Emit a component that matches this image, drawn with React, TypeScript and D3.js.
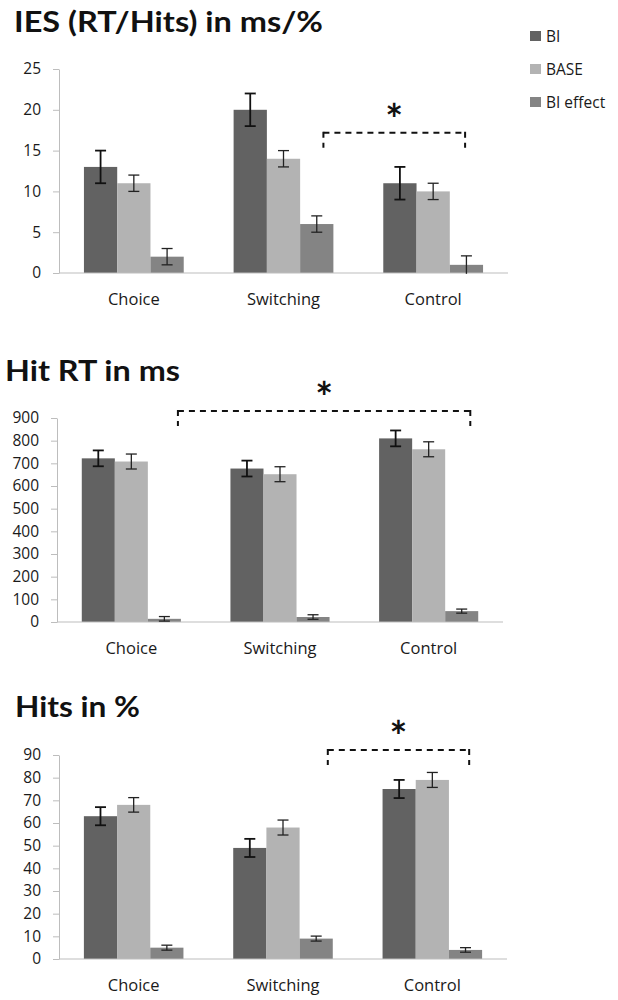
import { useEffect, useRef } from "react"
import * as d3 from "d3"

const categories = ["Choice", "Switching", "Control"]
const seriesNames = ["BI", "BASE", "BI effect"]
const seriesColors = ["#626262", "#b3b3b3", "#848484"]

// IES (RT/Hits) in ms/%
const iesBI = [13, 20, 11]
const iesBIErr = [2, 2, 2]
const iesBase = [11, 14, 10]
const iesBaseErr = [1, 1, 1]
const iesEffect = [2, 6, 1]
const iesEffectErr = [1, 1, 1.1]
const iesTicks = [0, 5, 10, 15, 20, 25]

// Hit RT in ms
const rtBI = [722, 677, 810]
const rtBIErr = [35, 35, 35]
const rtBase = [708, 652, 762]
const rtBaseErr = [33, 33, 33]
const rtEffect = [14, 22, 48]
const rtEffectErr = [10, 10, 9]
const rtTicks = [0, 100, 200, 300, 400, 500, 600, 700, 800, 900]

// Hits in %
const hitsBI = [63, 49, 75]
const hitsBIErr = [4, 4, 4]
const hitsBase = [68, 58, 79]
const hitsBaseErr = [3.2, 3.3, 3.3]
const hitsEffect = [5, 9, 4]
const hitsEffectErr = [1.1, 1.1, 1]
const hitsTicks = [0, 10, 20, 30, 40, 50, 60, 70, 80, 90]

const titles = ["IES (RT/Hits) in ms/%", "Hit RT in ms", "Hits in %"]

// significance brackets (one per panel)
const bracketFrom = ["Switching", "Choice", "Switching"]
const bracketTo = ["Control", "Control", "Control"]
const bracketLevel = [17.2, 931, 92.2]

const TITLE_FONT = "Lato, 'Open Sans', sans-serif"
const FONT = "'Open Sans', 'Noto Sans', sans-serif"

export default function App() {
  const ref = useRef<SVGSVGElement>(null)

  useEffect(() => {
    const svg = d3.select(ref.current)
    svg.selectAll("*").remove()

    const panels = [
      {
        title: titles[0], titleX: 14, titleY: 32, titleW: 309,
        values: [iesBI, iesBase, iesEffect], errs: [iesBIErr, iesBaseErr, iesEffectErr],
        ticks: iesTicks, x0: 59, x1: 508, y0: 273, y1: 69,
        bracketFrac: [0.9, 0.82],
      },
      {
        title: titles[1], titleX: 5, titleY: 381, titleW: 175,
        values: [rtBI, rtBase, rtEffect], errs: [rtBIErr, rtBaseErr, rtEffectErr],
        ticks: rtTicks, x0: 57, x1: 503, y0: 622, y1: 418,
        bracketFrac: [0.97, 0.92],
      },
      {
        title: titles[2], titleX: 15, titleY: 717, titleW: 125,
        values: [hitsBI, hitsBase, hitsEffect], errs: [hitsBIErr, hitsBaseErr, hitsEffectErr],
        ticks: hitsTicks, x0: 59, x1: 507, y0: 959, y1: 755,
        bracketFrac: [0.95, 0.87],
      },
    ]

    panels.forEach((p, pi) => {
      const g = svg.append("g")

      const x = d3.scaleBand<string>()
        .domain(categories)
        .range([p.x0, p.x1])
        .paddingInner(1 / 3)
        .paddingOuter(1 / 6)

      const xs = d3.scaleBand<string>()
        .domain(seriesNames)
        .range([0, x.bandwidth()])

      const yMax = p.ticks[p.ticks.length - 1]
      const y = d3.scaleLinear().domain([0, yMax]).range([p.y0, p.y1])

      // Title
      g.append("text")
        .attr("x", p.titleX)
        .attr("y", p.titleY)
        .attr("font-family", TITLE_FONT)
        .attr("font-weight", "bold")
        .attr("font-size", 29)
        .attr("textLength", p.titleW)
        .attr("lengthAdjust", "spacingAndGlyphs")
        .attr("fill", "#111")
        .text(p.title)

      // Y axis
      const yAxis = g.append("g")
        .attr("transform", `translate(${p.x0},0)`)
        .call(d3.axisLeft(y).tickValues(p.ticks).tickSize(6).tickPadding(12).tickSizeOuter(0))
      yAxis.select(".domain").attr("stroke", "#bdbdbd")
      yAxis.selectAll(".tick line").attr("stroke", "#bdbdbd")
      yAxis.selectAll(".tick text")
        .attr("font-family", FONT)
        .attr("font-size", 15.5)
        .attr("fill", "#1a1a1a")

      // Bars
      seriesNames.forEach((s, si) => {
        g.append("g")
          .selectAll("rect")
          .data(p.values[si])
          .join("rect")
          .attr("x", (_, i) => (x(categories[i]) ?? 0) + (xs(s) ?? 0))
          .attr("y", d => y(d))
          .attr("width", xs.bandwidth())
          .attr("height", d => y(0) - y(d))
          .attr("fill", seriesColors[si])
      })

      // X axis baseline
      g.append("line")
        .attr("x1", p.x0)
        .attr("x2", p.x1)
        .attr("y1", y(0))
        .attr("y2", y(0))
        .attr("stroke", "#bdbdbd")
        .attr("stroke-width", 1)

      // Error bars
      seriesNames.forEach((s, si) => {
        const eg = g.append("g")
          .attr("stroke", si === 0 ? "#111" : "#222")
          .attr("stroke-width", si === 0 ? 1.8 : 1.3)
        p.values[si].forEach((v, i) => {
          const cx = (x(categories[i]) ?? 0) + (xs(s) ?? 0) + xs.bandwidth() / 2
          const e = p.errs[si][i]
          const top = y(v + e)
          const bot = y(v - e)
          eg.append("line").attr("x1", cx).attr("x2", cx).attr("y1", top).attr("y2", bot)
          eg.append("line").attr("x1", cx - 5.5).attr("x2", cx + 5.5).attr("y1", top).attr("y2", top)
          if (v - e > 0) {
            eg.append("line").attr("x1", cx - 5.5).attr("x2", cx + 5.5).attr("y1", bot).attr("y2", bot)
          }
        })
      })

      // Category labels
      g.append("g")
        .selectAll("text")
        .data(categories)
        .join("text")
        .attr("x", d => (x(d) ?? 0) + x.bandwidth() / 2)
        .attr("y", y(0) + 32)
        .attr("text-anchor", "middle")
        .attr("font-family", FONT)
        .attr("font-size", 16.5)
        .attr("fill", "#1a1a1a")
        .text(d => d)

      // Significance bracket
      const bx1 = (x(bracketFrom[pi]) ?? 0) + p.bracketFrac[0] * x.bandwidth()
      const bx2 = (x(bracketTo[pi]) ?? 0) + p.bracketFrac[1] * x.bandwidth()
      const by = y(bracketLevel[pi])
      const bg = g.append("g")
        .attr("stroke", "#111")
        .attr("stroke-width", 2)
        .attr("stroke-dasharray", "6,5")
        .attr("fill", "none")
      bg.append("line").attr("x1", bx1).attr("x2", bx2).attr("y1", by).attr("y2", by)
      bg.append("line").attr("x1", bx1).attr("x2", bx1).attr("y1", by - 1).attr("y2", by + 15)
      bg.append("line").attr("x1", bx2).attr("x2", bx2).attr("y1", by - 1).attr("y2", by + 15)

      g.append("text")
        .attr("x", (bx1 + bx2) / 2)
        .attr("y", by + 2)
        .attr("text-anchor", "middle")
        .attr("font-family", TITLE_FONT)
        .attr("font-weight", "bold")
        .attr("font-size", 42)
        .attr("fill", "#111")
        .text("*")

      // Legend (first panel only)
      if (pi === 0) {
        const lg = g.append("g")
        seriesNames.forEach((s, si) => {
          const cy = 36 + si * 33
          lg.append("rect")
            .attr("x", 530)
            .attr("y", cy - 5)
            .attr("width", 11)
            .attr("height", 10)
            .attr("fill", seriesColors[si])
          lg.append("text")
            .attr("x", 546)
            .attr("y", cy)
            .attr("dy", "0.36em")
            .attr("font-family", FONT)
            .attr("font-size", 15.5)
            .attr("fill", "#1a1a1a")
            .text(s)
        })
      }
    })
  }, [])

  return (
    <svg
      ref={ref}
      width={618}
      height={1000}
      style={{ position: "absolute", left: 0, top: 0, background: "#fff" }}
    />
  )
}
